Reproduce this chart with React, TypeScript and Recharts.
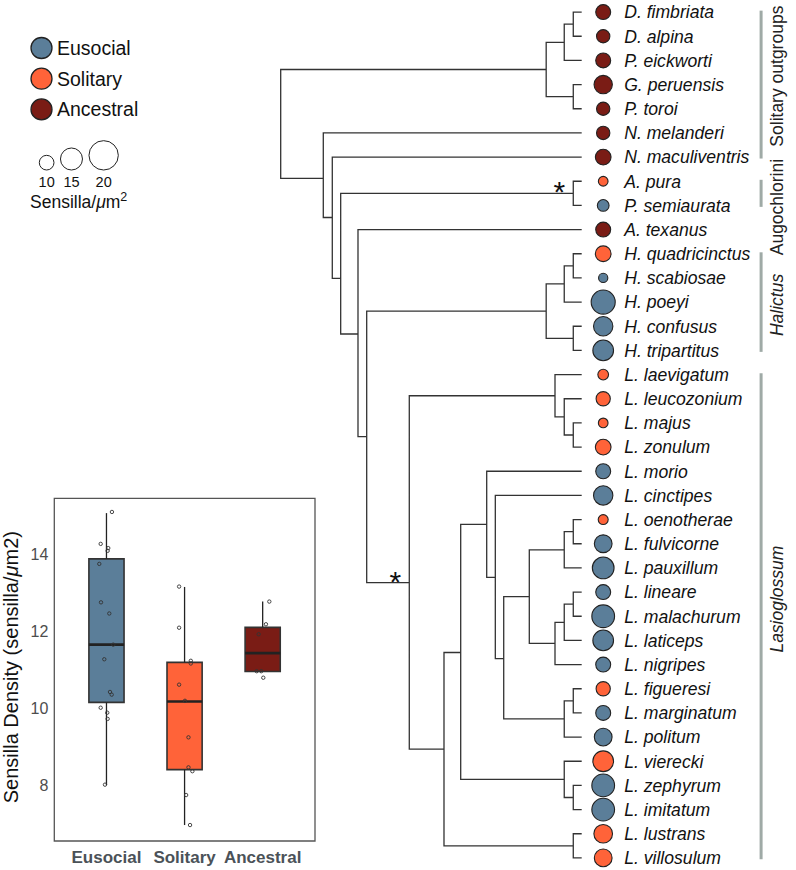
import React from 'react';
import {
  ComposedChart, Line, Scatter, XAxis, YAxis, ZAxis, ReferenceLine, ReferenceArea, Legend, Label,
} from 'recharts';

const FONT = '"Liberation Sans", Arial, Helvetica, sans-serif';

// ---------- behaviour groups ----------
const groupNames = ['Eusocial', 'Solitary', 'Ancestral'];
const groupColors = ['#5B7E99', '#FF6339', '#7A1C15'];

// ---------- tree tips (top to bottom) ----------
const speciesNames = [
  'D. fimbriata', 'D. alpina', 'P. eickworti', 'G. peruensis', 'P. toroi', 'N. melanderi', 'N. maculiventris',
  'A. pura', 'P. semiaurata', 'A. texanus',
  'H. quadricinctus', 'H. scabiosae', 'H. poeyi', 'H. confusus', 'H. tripartitus',
  'L. laevigatum', 'L. leucozonium', 'L. majus', 'L. zonulum', 'L. morio', 'L. cinctipes', 'L. oenotherae',
  'L. fulvicorne', 'L. pauxillum', 'L. lineare', 'L. malachurum', 'L. laticeps', 'L. nigripes', 'L. figueresi',
  'L. marginatum', 'L. politum', 'L. vierecki', 'L. zephyrum', 'L. imitatum', 'L. lustrans', 'L. villosulum',
];
// index into groupNames
const speciesGroup = [
  2, 2, 2, 2, 2, 2, 2,
  1, 0, 2,
  1, 0, 0, 0, 0,
  1, 1, 1, 1, 0, 0, 1, 0, 0, 0, 0, 0, 0, 1, 0, 0, 1, 0, 0, 1, 1,
];
// sensilla / µm²
const speciesDensity = [
  10.2, 9.1, 10.2, 12.5, 9.1, 9.1, 10.7,
  6.6, 8.0, 10.2,
  10.7, 6.3, 16.4, 13.2, 14.1,
  7.3, 9.7, 6.6, 10.7, 10.2, 13.2, 6.8, 12.1, 14.8, 10.2, 15.5, 14.1, 10.2, 9.7, 10.2, 12.1, 14.1, 15.5, 15.5, 12.7, 12.1,
];
const speciesParent = [
  'D', 'D', 'B', 'C', 'C', 'E', 'F',
  'H', 'H', 'I',
  'K3', 'K3', 'K1', 'K2', 'K2',
  'M', 'M1', 'M2', 'M2', 'Q', 'S', 'W1', 'W1', 'W', 'X2', 'X2', 'X1', 'X', 'V1', 'V1', 'V', 'R', 'R1', 'R1', 'P', 'P',
];
const TIP_DEPTH = 1;

// ---------- internal nodes ----------
const nodeIds =    ['root', 'A', 'B', 'D', 'C', 'E', 'F', 'G', 'H', 'I', 'J', 'K', 'K1', 'K3', 'K2', 'L', 'M', 'M1', 'M2', 'N', 'O', 'P', 'Q', 'R', 'R1', 'S', 'T', 'U', 'V', 'V1', 'W', 'W1', 'X', 'X1', 'X2'];
const nodeParent = [null, 'root', 'A', 'B', 'A', 'root', 'E', 'F', 'G', 'G', 'I', 'J', 'K', 'K1', 'K', 'J', 'L', 'M', 'M1', 'L', 'N', 'N', 'O', 'O', 'R', 'Q', 'S', 'T', 'T', 'V', 'U', 'W', 'U', 'X', 'X1'];
const nodeDepth =  [0, 0.882, 0.942, 0.972, 0.972, 0.1415, 0.1714, 0.1993, 0.972, 0.2568, 0.2857, 0.882, 0.942, 0.972, 0.972, 0.4272, 0.9113, 0.942, 0.972, 0.5425, 0.598, 0.972, 0.6844, 0.942, 0.972, 0.713, 0.7409, 0.8259, 0.942, 0.972, 0.942, 0.972, 0.9113, 0.942, 0.972];
const nodeRow =    [4.6, 2.375, 1.25, 0.5, 3.5, 6.88, 8.5, 11.02, 7.5, 13.32, 17.57, 12.375, 11.25, 10.5, 13.5, 23.61, 15.875, 16.75, 17.5, 30.5, 26.5, 34.5, 21.2, 31.75, 32.5, 23.39, 26.75, 24.19, 29.25, 28.5, 22.25, 21.5, 26.125, 25.25, 24.5];
const supportedNodes = ['H', 'L'];

// ---------- clades ----------
const cladeNames = ['Solitary outgroups', 'Augochlorini', 'Halictus', 'Lasioglossum'];
const cladeItalic = [false, false, true, true];
const cladeFirstTip = [0, 7, 10, 15];
const cladeLastTip = [6, 8, 14, 35];
const cladeLabelRow = [2.65, 8.07, 12.12, 24.29];

// ---------- size legend ----------
const sizeLegendValues = [10, 15, 20];

// ---------- box plot ----------
const bpGroups = ['Eusocial', 'Solitary', 'Ancestral'];
const bpLow = [8.0, 6.96, 10.95];
const bpQ1 = [10.15, 8.4, 10.95];
const bpMedian = [11.65, 10.17, 11.43];
const bpQ3 = [13.88, 11.19, 12.1];
const bpHigh = [15.07, 13.15, 12.77];
const eusocialValues = [15.1, 14.27, 14.16, 14.09, 13.75, 12.75, 12.46, 11.65, 11.27, 10.42, 10.35, 10.01, 9.88, 9.72, 8.01];
const eusocialJitter = [0.07, -0.074, 0.023, 0.015, -0.092, -0.07, 0.036, 0.087, -0.028, 0.045, 0.067, -0.074, 0.01, 0.015, -0.019];
const solitaryValues = [13.16, 12.09, 11.23, 11.16, 10.61, 10.19, 9.24, 8.46, 8.36, 7.74, 6.96];
const solitaryJitter = [-0.07, -0.07, 0.08, 0.08, -0.07, 0.005, 0.05, 0.05, 0.1, 0.02, 0.07];
const ancestralValues = [12.77, 12.18, 11.92, 10.96, 10.96, 10.79];
const ancestralJitter = [0.085, 0.042, -0.051, -0.077, -0.018, 0.008];
const bpYTicks = [8, 10, 12, 14];

// ---------- styles / layout ----------
const RADIUS_PER_UNIT = 14.67 / 20;
const DOT_OFFSET = 21.5;
const LABEL_OFFSET = 42.5;
const TREE_X_DOMAIN: [number, number] = [0, 1.7];
const TREE_Y_DOMAIN: [number, number] = [-0.5, 35.5];
const CLADE_BAR_X = 1.596;
const CLADE_LABEL_X = 1.668;
const BOX_HALF = 0.225;
const BP_X_DOMAIN: [number, number] = [0.332, 3.67];
const BP_Y_DOMAIN: [number, number] = [6.545, 15.455];

// ---------- derived chart tables ----------
const nodeIndex: Record<string, number> = {};
nodeIds.forEach((id, i) => { nodeIndex[id] = i; });

type Pt = { x: number; y: number | null };
const treePath: Pt[] = [];
const addEdge = (pid: string, cx: number, cy: number) => {
  const p = nodeIndex[pid];
  const px = nodeDepth[p];
  const py = nodeRow[p];
  treePath.push({ x: px, y: py }, { x: px, y: cy }, { x: cx, y: cy }, { x: cx, y: null });
};
nodeIds.forEach((id, i) => {
  const par = nodeParent[i];
  if (par) addEdge(par, nodeDepth[i], nodeRow[i]);
});
speciesNames.forEach((_, i) => addEdge(speciesParent[i], TIP_DEPTH, i));

const tipData = speciesNames.map((name, i) => ({
  x: TIP_DEPTH, y: i, z: speciesDensity[i], name, g: speciesGroup[i],
}));
const supportData = supportedNodes.map((id) => ({ x: nodeDepth[nodeIndex[id]], y: nodeRow[nodeIndex[id]] }));
const cladeLabelData = cladeNames.map((name, i) => ({ x: CLADE_LABEL_X, y: cladeLabelRow[i], name, italic: cladeItalic[i] }));

const bpPoints = [
  ...eusocialValues.map((v, i) => ({ x: 1 + eusocialJitter[i], y: v })),
  ...solitaryValues.map((v, i) => ({ x: 2 + solitaryJitter[i], y: v })),
  ...ancestralValues.map((v, i) => ({ x: 3 + ancestralJitter[i], y: v })),
];

// ---------- shapes ----------
const TipShape = (props: any) => {
  const { cx, cy, size, payload } = props;
  const r = typeof size === 'number' ? size : payload.z * RADIUS_PER_UNIT;
  return (
    <g>
      <circle cx={cx + DOT_OFFSET} cy={cy} r={r} fill={groupColors[payload.g]} stroke="#222" strokeWidth={1.1} />
      <text x={cx + LABEL_OFFSET} y={cy} dy="0.36em" fontFamily={FONT} fontSize={17.6} fontStyle="italic" fill="#111">
        {payload.name}
      </text>
    </g>
  );
};

const AsteriskShape = (props: any) => {
  const { cx, cy } = props;
  return (
    <text x={cx - 14} y={cy + 9} textAnchor="middle" fontFamily={FONT} fontSize={30} fill="#111">*</text>
  );
};

const CladeLabelShape = (props: any) => {
  const { cx, cy, payload } = props;
  return (
    <text
      transform={`translate(${cx}, ${cy}) rotate(-90)`}
      textAnchor="middle"
      fontFamily={FONT}
      fontSize={17.5}
      fontStyle={payload.italic ? 'italic' : 'normal'}
      fill="#222"
    >
      {payload.name}
    </text>
  );
};

const BpPointShape = (props: any) => {
  const { cx, cy } = props;
  return <circle cx={cx} cy={cy} r={1.7} fill="none" stroke="#333" strokeWidth={0.9} />;
};

const renderLegend = () => {
  const sizeCx: number[] = [];
  let left = 39.3;
  sizeLegendValues.forEach((v) => {
    const r = v * RADIUS_PER_UNIT;
    sizeCx.push(left + r);
    left += 2 * r + 6.5;
  });
  return (
    <svg width={230} height={220} style={{ display: 'block' }}>
      {groupNames.map((g, i) => (
        <g key={g}>
          <circle cx={41.5} cy={48 + i * 30.7} r={10.5} fill={groupColors[i]} stroke="#222" strokeWidth={1.3} />
          <text x={57} y={48 + i * 30.7} dy="0.36em" fontFamily={FONT} fontSize={19.5} fill="#111">{g}</text>
        </g>
      ))}
      {sizeLegendValues.map((v, i) => {
        const r = v * RADIUS_PER_UNIT;
        return (
          <g key={v}>
            <circle cx={sizeCx[i]} cy={170 - r} r={r} fill="#fff" stroke="#222" strokeWidth={1} />
            <text x={sizeCx[i]} y={187} textAnchor="middle" fontFamily={FONT} fontSize={14.5} fill="#111">{v}</text>
          </g>
        );
      })}
      <text x={30} y={208} fontFamily={FONT} fontSize={17.5} fill="#111">
        Sensilla/<tspan fontStyle="italic">μ</tspan>m
        <tspan fontSize={12.5} dy={-7}>2</tspan>
      </text>
    </svg>
  );
};

const YTitle = (props: any) => {
  const vb = props.viewBox || { x: 0, y: 0, width: 54, height: 340 };
  const cy = vb.y + vb.height / 2 - 2.5;
  return (
    <text
      transform={`translate(17.5, ${cy}) rotate(-90)`}
      textAnchor="middle"
      fontFamily={FONT}
      fontSize={20}
      fill="#111"
    >
      Sensilla Density (sensilla/<tspan fontStyle="italic">μ</tspan>m2)
    </text>
  );
};

export default function App() {
  return (
    <div style={{ position: 'absolute', left: 0, top: 0, width: 796, height: 870, background: '#fff', fontFamily: FONT }}>
      <div style={{ position: 'absolute', left: 0, top: 0 }}>
        <ComposedChart width={796} height={870} margin={{ top: 0, right: 3.6, bottom: 0, left: 280.7 }}>
          <XAxis type="number" dataKey="x" domain={TREE_X_DOMAIN} hide />
          <YAxis type="number" dataKey="y" domain={TREE_Y_DOMAIN} reversed hide />
          <ZAxis type="number" dataKey="z" domain={[0, 20]} range={[0, 20 * RADIUS_PER_UNIT]} />
          {cladeNames.map((name, i) => (
            <ReferenceLine
              key={name}
              segment={[{ x: CLADE_BAR_X, y: cladeFirstTip[i] - 0.06 }, { x: CLADE_BAR_X, y: cladeLastTip[i] + 0.06 }]}
              stroke="#9FAAA6"
              strokeWidth={3}
              ifOverflow="visible"
            />
          ))}
          <Line
            data={treePath}
            dataKey="y"
            stroke="#333"
            strokeWidth={1.3}
            dot={false}
            activeDot={false}
            connectNulls={false}
            isAnimationActive={false}
          />
          <Scatter data={tipData} shape={TipShape} isAnimationActive={false} />
          <Scatter data={supportData} shape={AsteriskShape} isAnimationActive={false} />
          <Scatter data={cladeLabelData} shape={CladeLabelShape} isAnimationActive={false} />
          <Legend
            content={renderLegend}
            layout="vertical"
            align="center"
            verticalAlign="middle"
            wrapperStyle={{ left: 0, top: 0, width: 230, height: 220 }}
          />
        </ComposedChart>
      </div>
      <div style={{ position: 'absolute', left: 0, top: 490 }}>
        <ComposedChart width={320} height={380} margin={{ top: 8.3, right: 5, bottom: 0, left: 0 }}>
          <XAxis
            type="number"
            dataKey="x"
            domain={BP_X_DOMAIN}
            ticks={[1, 2, 3]}
            tickFormatter={(v: number) => bpGroups[Math.round(v) - 1]}
            tickLine={false}
            axisLine={false}
            tickSize={6}
            tickMargin={3.7}
            height={29}
            interval={0}
            tick={{ fill: '#4B5258', fontSize: 17, fontWeight: 'bold', fontFamily: FONT }}
          />
          <YAxis
            type="number"
            dataKey="y"
            domain={BP_Y_DOMAIN}
            ticks={bpYTicks}
            tickLine={false}
            axisLine={false}
            tickSize={4}
            tickMargin={2}
            width={54.3}
            interval={0}
            tick={{ fill: '#4D4D4D', fontSize: 16, fontFamily: FONT }}
          >
            <Label content={YTitle} />
          </YAxis>
          <ReferenceArea
            x1={BP_X_DOMAIN[0]}
            x2={BP_X_DOMAIN[1]}
            y1={BP_Y_DOMAIN[0]}
            y2={BP_Y_DOMAIN[1]}
            fill="none"
            fillOpacity={0}
            stroke="#555"
            strokeWidth={1.3}
            ifOverflow="visible"
          />
          {bpGroups.map((g, i) => (
            <ReferenceLine
              key={`wl-${g}`}
              segment={[{ x: i + 1, y: bpLow[i] }, { x: i + 1, y: bpQ1[i] }]}
              stroke="#222"
              strokeWidth={1.3}
            />
          ))}
          {bpGroups.map((g, i) => (
            <ReferenceLine
              key={`wh-${g}`}
              segment={[{ x: i + 1, y: bpQ3[i] }, { x: i + 1, y: bpHigh[i] }]}
              stroke="#222"
              strokeWidth={1.3}
            />
          ))}
          {bpGroups.map((g, i) => (
            <ReferenceArea
              key={`box-${g}`}
              x1={i + 1 - BOX_HALF}
              x2={i + 1 + BOX_HALF}
              y1={bpQ1[i]}
              y2={bpQ3[i]}
              fill={groupColors[i]}
              fillOpacity={1}
              stroke="#333"
              strokeWidth={1.6}
            />
          ))}
          {bpGroups.map((g, i) => (
            <ReferenceLine
              key={`med-${g}`}
              segment={[{ x: i + 1 - BOX_HALF, y: bpMedian[i] }, { x: i + 1 + BOX_HALF, y: bpMedian[i] }]}
              stroke="#222"
              strokeWidth={2.6}
            />
          ))}
          <Scatter data={bpPoints} shape={BpPointShape} isAnimationActive={false} />
        </ComposedChart>
      </div>
    </div>
  );
}
